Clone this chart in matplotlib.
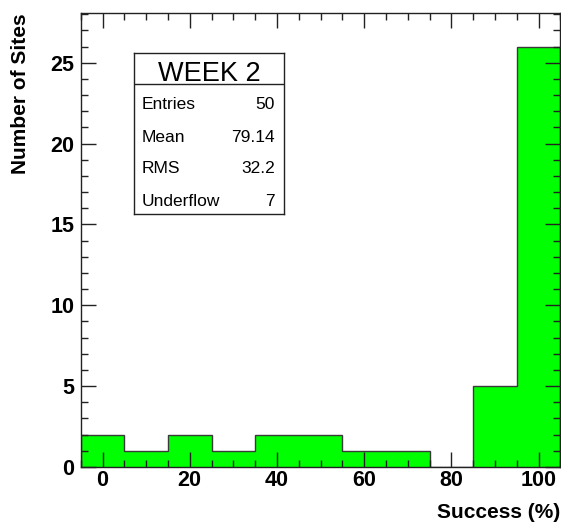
import matplotlib
matplotlib.use("Agg")
import matplotlib.pyplot as plt
from matplotlib.ticker import MultipleLocator
from matplotlib.lines import Line2D

plt.rcParams['font.family'] = ['Liberation Sans', 'DejaVu Sans']

# Data
bin_edges = [-5, 5, 15, 25, 35, 45, 55, 65, 75, 85, 95, 105]
counts = [2, 1, 2, 1, 2, 2, 1, 1, 0, 5, 26]
stats_title = "WEEK 2"
stats_labels = ["Entries", "Mean", "RMS", "Underflow"]
stats_values = ["50", "79.14", "32.2", "7"]
xlabel = "Success (%)"
ylabel = "Number of Sites"

W, H = 561, 524
fig = plt.figure(figsize=(W / 100, H / 100), dpi=100)

def fx(px):
    return px / W

def fy(py):
    return 1 - py / H

ax_l, ax_r, ax_t, ax_b = 80.7, 560.3, 13.3, 467.0
ax = fig.add_axes([fx(ax_l), fy(ax_b), fx(ax_r - ax_l), (ax_b - ax_t) / H])

green = '#00ff00'
edge = '#3a3a3a'
ax.stairs(counts, bin_edges, baseline=0, fill=True, color=green, linewidth=0)
ax.stairs(counts, bin_edges, baseline=0, fill=False, color=edge, linewidth=1.0)

ax.set_xlim(bin_edges[0], bin_edges[-1])
ax.set_ylim(0, 28.06)

ax.xaxis.set_major_locator(MultipleLocator(20))
ax.xaxis.set_minor_locator(MultipleLocator(5))
ax.yaxis.set_major_locator(MultipleLocator(5))
ax.yaxis.set_minor_locator(MultipleLocator(1))

ax.tick_params(which='both', direction='in', top=True, right=True, width=1.0, color='#222222')
ax.tick_params(which='major', length=10.5)
ax.tick_params(which='minor', length=5.2)
ax.tick_params(axis='x', which='major', pad=2.5, labelsize=15.5)
ax.tick_params(axis='y', which='major', pad=4.5, labelsize=15.5)
for lab in ax.get_xticklabels() + ax.get_yticklabels():
    lab.set_fontweight('bold')
for s in ax.spines.values():
    s.set_linewidth(1.0)
    s.set_color('#222222')

fig.text(fx(21), fy(13), ylabel, rotation=90, ha='center', va='top',
         fontsize=15, fontweight='bold')
fig.text(fx(560), fy(513), xlabel, ha='right', va='center',
         fontsize=15, fontweight='bold')

# Stats box
bx_l, bx_r, bx_t, bx_b = 134, 284, 53, 214
sax = fig.add_axes([fx(bx_l), fy(bx_b), fx(bx_r - bx_l), (bx_b - bx_t) / H])
sax.set_xlim(bx_l, bx_r)
sax.set_ylim(bx_b, bx_t)
sax.set_xticks([])
sax.set_yticks([])
for s in sax.spines.values():
    s.set_linewidth(1.0)
    s.set_color('#222222')
sax.add_line(Line2D([bx_l, bx_r], [84, 84], color='#222222', linewidth=1.0))
sax.text((bx_l + bx_r) / 2, 74, stats_title, ha='center', va='center', fontsize=19.5)
row_y = [104, 137, 168, 201]
for lab, val, yy in zip(stats_labels, stats_values, row_y):
    sax.text(142, yy, lab, ha='left', va='center', fontsize=12.5)
    sax.text(275, yy, val, ha='right', va='center', fontsize=12.5)

fig.savefig('out.png', dpi=100)
